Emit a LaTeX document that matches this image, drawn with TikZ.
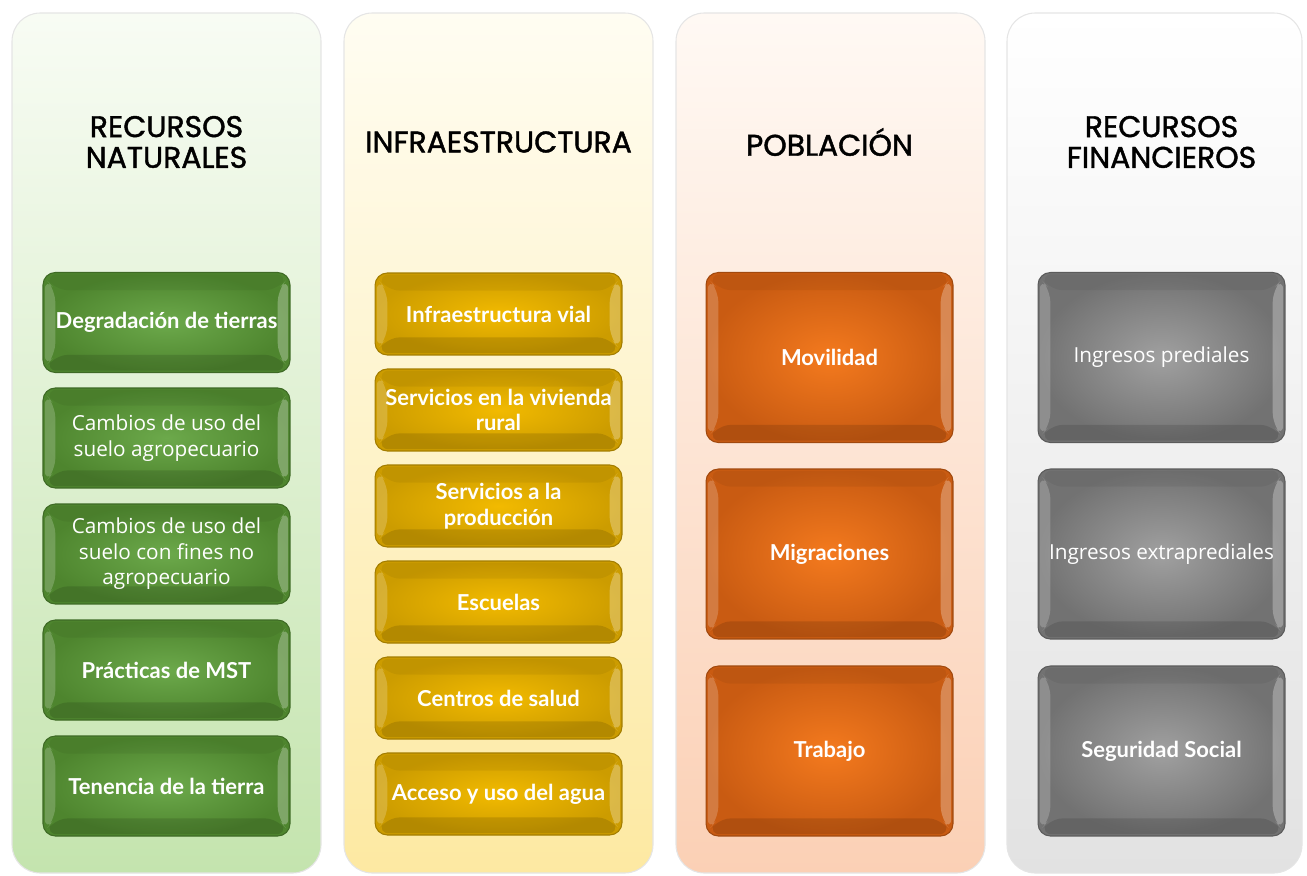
\documentclass[tikz,border=0pt]{standalone}
\usepackage{fontspec}
\setmainfont{Lato}
\newfontfamily\titlefont[FakeBold=1.4]{Poppins}
\newfontfamily\plainfont{Open Sans}
\usetikzlibrary{calc}

\definecolor{grnTop}{HTML}{F8FCF4}
\definecolor{grnBot}{HTML}{C4E4AE}
\definecolor{ylwTop}{HTML}{FFFDF2}
\definecolor{ylwBot}{HTML}{FDE9A2}
\definecolor{orgTop}{HTML}{FFF9F4}
\definecolor{orgBot}{HTML}{FBD0B5}
\definecolor{gryTop}{HTML}{FFFFFF}
\definecolor{gryBot}{HTML}{E2E2E2}
\definecolor{grnIn}{HTML}{6CA94B}
\definecolor{grnOut}{HTML}{4E852E}
\definecolor{ylwIn}{HTML}{F2BA00}
\definecolor{ylwOut}{HTML}{CC9C00}
\definecolor{orgIn}{HTML}{F47A1E}
\definecolor{orgOut}{HTML}{C95B12}
\definecolor{gryIn}{HTML}{A0A0A0}
\definecolor{gryOut}{HTML}{727272}

\tikzset{bevel/.style={path picture={
  \coordinate (nw) at (path picture bounding box.north west);
  \coordinate (ne) at (path picture bounding box.north east);
  \coordinate (sw) at (path picture bounding box.south west);
  \coordinate (se) at (path picture bounding box.south east);
  \fill[white,opacity=.2] ($(nw)+(1pt,-3pt)$) -- ($(nw)+(7pt,-10pt)$)
     -- ($(sw)+(7pt,10pt)$) -- ($(sw)+(1pt,3pt)$) -- cycle;
  \fill[white,opacity=.28] ($(ne)+(-1pt,-3pt)$) -- ($(ne)+(-7pt,-10pt)$)
     -- ($(se)+(-7pt,10pt)$) -- ($(se)+(-1pt,3pt)$) -- cycle;
  \fill[black,opacity=.12] ($(sw)+(1pt,1pt)$) -- ($(sw)+(7pt,10pt)$)
     -- ($(se)+(-7pt,10pt)$) -- ($(se)+(-1pt,1pt)$) -- cycle;
  \fill[black,opacity=.05] ($(nw)+(1pt,-1pt)$) -- ($(nw)+(7pt,-10pt)$)
     -- ($(ne)+(-7pt,-10pt)$) -- ($(ne)+(-1pt,-1pt)$) -- cycle;
}}}

\begin{document}
\begin{tikzpicture}[x=0.02cm, y=-0.02cm]
\tikzstyle{panel}=[rounded corners=16pt, draw=black!10, line width=.6pt]
\tikzstyle{title}=[align=center, font=\titlefont\fontsize{17}{17.5}\selectfont]
\tikzstyle{box}=[rectangle, rounded corners=7pt, bevel, line width=.6pt,
                 minimum width=4.94cm, text=white, align=center,
                 font=\bfseries\fontsize{12.5}{14.5}\selectfont]
\tikzstyle{thin}=[font=\plainfont\fontsize{11.8}{14.5}\selectfont]
\tikzstyle{nat}=[box, draw=grnOut!80!black, inner color=grnIn, outer color=grnOut, minimum height=2cm]
\tikzstyle{inf}=[box, draw=ylwOut!80!black, inner color=ylwIn, outer color=ylwOut, minimum height=1.64cm]
\tikzstyle{pob}=[box, draw=orgOut!80!black, inner color=orgIn, outer color=orgOut, minimum height=3.4cm]
\tikzstyle{fin}=[box, draw=gryOut!80!black, inner color=gryIn, outer color=gryOut, minimum height=3.4cm]
\useasboundingbox (0,0) rectangle (1307,875);

% columns
\shade[panel, top color=grnTop, bottom color=grnBot] (12,13) rectangle (321,873);
\shade[panel, top color=ylwTop, bottom color=ylwBot] (344,13) rectangle (653,873);
\shade[panel, top color=orgTop, bottom color=orgBot] (676,13) rectangle (985,873);
\shade[panel, top color=gryTop, bottom color=gryBot] (1007,13) rectangle (1302,873);

% titles
\node[title] (tnat) at (166.5,142) {RECURSOS\\NATURALES};
\node[title] (tinf) at (498.5,142) {INFRAESTRUCTURA};
\node[title] (tpob) at (829.5,142) {POBLACIÓN};
\node[title] (tfin) at (1161.5,142) {RECURSOS\\FINANCIEROS};

% recursos naturales
\node[nat] (n1) at (166.5,322.5) {Degradación de tierras};
\node[nat, thin] (n2) at (166.5,438) {Cambios de uso del\\suelo agropecuario};
\node[nat, thin] (n3) at (166.5,554) {Cambios de uso del\\suelo con fines no\\agropecuario};
\node[nat] (n4) at (166.5,670) {Prácticas de MST};
\node[nat] (n5) at (166.5,786) {Tenencia de la tierra};

% infraestructura
\node[inf] (i1) at (498.5,314) {Infraestructura vial};
\node[inf] (i2) at (498.5,410) {Servicios en la vivienda\\rural};
\node[inf] (i3) at (498.5,506) {Servicios a la\\producción};
\node[inf] (i4) at (498.5,602) {Escuelas};
\node[inf] (i5) at (498.5,698) {Centros de salud};
\node[inf] (i6) at (498.5,794) {Acceso y uso del agua};

% poblacion
\node[pob] (p1) at (829.5,357.5) {Movilidad};
\node[pob] (p2) at (829.5,554) {Migraciones};
\node[pob] (p3) at (829.5,751) {Trabajo};

% recursos financieros
\node[fin, thin] (f1) at (1161.5,357.5) {Ingresos prediales};
\node[fin, thin] (f2) at (1161.5,554) {Ingresos extraprediales};
\node[fin] (f3) at (1161.5,751) {Seguridad Social};
\end{tikzpicture}
\end{document}
